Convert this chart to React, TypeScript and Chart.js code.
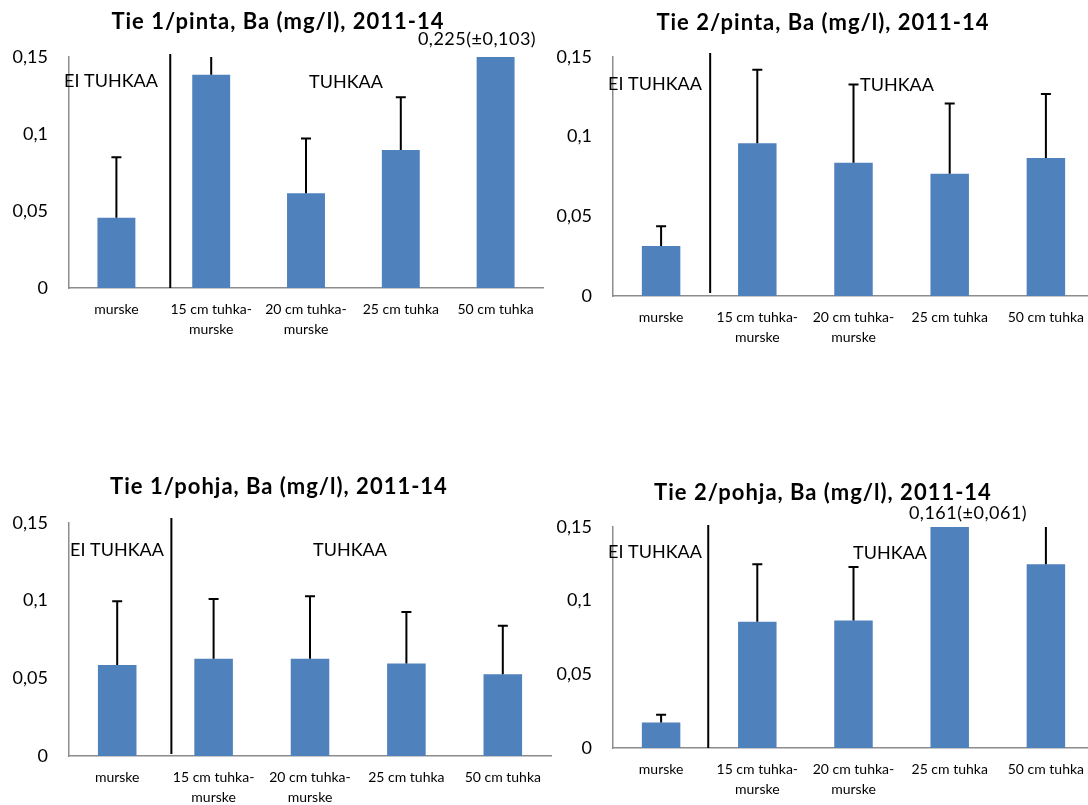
import React, { useEffect, useRef } from 'react';
import { Chart, registerables } from 'chart.js';

Chart.register(...registerables);

// ---------- data ----------
const categories: (string | string[])[] = [
  'murske',
  ['15 cm tuhka-', 'murske'],
  ['20 cm tuhka-', 'murske'],
  '25 cm tuhka',
  '50 cm tuhka',
];
const yTickValues = [0, 0.05, 0.1, 0.15];
const yTickLabels = ['0', '0,05', '0,1', '0,15'];

const tie1PintaMeans = [0.0456, 0.1385, 0.0615, 0.0896, 0.225];
const tie1PintaErrors = [0.0393, 0.03, 0.0355, 0.0342, 0.103];
const tie2PintaMeans = [0.0314, 0.0958, 0.0837, 0.0767, 0.0866];
const tie2PintaErrors = [0.0124, 0.0462, 0.049, 0.0441, 0.0402];
const tie1PohjaMeans = [0.0586, 0.0626, 0.0626, 0.0596, 0.0526];
const tie1PohjaErrors = [0.0411, 0.0384, 0.0402, 0.0331, 0.0313];
const tie2PohjaMeans = [0.0173, 0.0857, 0.0866, 0.161, 0.1247];
const tie2PohjaErrors = [0.0052, 0.039, 0.0363, 0.061, 0.045];

const groupLabels = ['EI TUHKAA', 'TUHKAA'];

// ---------- layout ----------
type PanelCfg = {
  title: string;
  means: number[];
  errors: number[];
  box: { left: number; top: number; width: number; height: number };
  area: { left: number; right: number; top: number; bottom: number };
  titlePos: { x: number; y: number };
  sep: { pos: number; top: number; bottom: number };
  groupPos: { x: number; y: number }[];
  note?: { text: string; x: number; y: number };
};

const panels: PanelCfg[] = [
  {
    title: 'Tie 1/pinta, Ba (mg/l), 2011-14',
    means: tie1PintaMeans,
    errors: tie1PintaErrors,
    box: { left: 0, top: 0, width: 545, height: 350 },
    area: { left: 69, right: 543, top: 57, bottom: 288 },
    titlePos: { x: 278, y: 22 },
    sep: { pos: 0.568, top: 54, bottom: 288 },
    groupPos: [{ x: 111, y: 81 }, { x: 346, y: 82 }],
    note: { text: '0,225(±0,103)', x: 477, y: 39 },
  },
  {
    title: 'Tie 2/pinta, Ba (mg/l), 2011-14',
    means: tie2PintaMeans,
    errors: tie2PintaErrors,
    box: { left: 545, top: 0, width: 560, height: 350 },
    area: { left: 68, right: 549, top: 57, bottom: 296 },
    titlePos: { x: 278, y: 23 },
    sep: { pos: 0.51, top: 53, bottom: 293 },
    groupPos: [{ x: 110, y: 84 }, { x: 352, y: 85 }],
  },
  {
    title: 'Tie 1/pohja, Ba (mg/l), 2011-14',
    means: tie1PohjaMeans,
    errors: tie1PohjaErrors,
    box: { left: 0, top: 470, width: 560, height: 335 },
    area: { left: 69, right: 551, top: 53, bottom: 286 },
    titlePos: { x: 279, y: 17 },
    sep: { pos: 0.562, top: 48, bottom: 284 },
    groupPos: [{ x: 117, y: 80 }, { x: 350, y: 80 }],
  },
  {
    title: 'Tie 2/pohja, Ba (mg/l), 2011-14',
    means: tie2PohjaMeans,
    errors: tie2PohjaErrors,
    box: { left: 545, top: 470, width: 560, height: 335 },
    area: { left: 68, right: 549, top: 57, bottom: 278 },
    titlePos: { x: 278, y: 23 },
    sep: { pos: 0.49, top: 55, bottom: 278 },
    groupPos: [{ x: 110, y: 82 }, { x: 345, y: 83 }],
    note: { text: '0,161(±0,061)', x: 423, y: 43 },
  },
];

const FONT = 'Lato, "Open Sans", sans-serif';
const BAR_COLOR = '#4F81BD';
const AXIS_COLOR = '#8c8c8c';

function Panel({ cfg }: { cfg: PanelCfg }) {
  const ref = useRef<HTMLCanvasElement | null>(null);

  useEffect(() => {
    if (!ref.current) return;
    const { box, area } = cfg;

    const decor = {
      id: 'decor',
      afterDatasetsDraw(chart: any) {
        const ctx = chart.ctx as CanvasRenderingContext2D;
        const ca = chart.chartArea;
        const ys = chart.scales.y;
        const xs = chart.scales.x;
        const meta = chart.getDatasetMeta(0);
        // error bars (clipped to plot area)
        ctx.save();
        ctx.beginPath();
        ctx.rect(ca.left, ca.top, ca.right - ca.left, ca.bottom - ca.top);
        ctx.clip();
        ctx.strokeStyle = '#000';
        ctx.lineWidth = 2;
        meta.data.forEach((bar: any, i: number) => {
          const x = bar.x;
          const y0 = ys.getPixelForValue(cfg.means[i]);
          const y1 = ys.getPixelForValue(cfg.means[i] + cfg.errors[i]);
          ctx.beginPath();
          ctx.moveTo(x, y0);
          ctx.lineTo(x, y1);
          ctx.moveTo(x - 5, y1);
          ctx.lineTo(x + 5, y1);
          ctx.stroke();
        });
        ctx.restore();
        // separator line
        const sx = xs.getPixelForValue(cfg.sep.pos);
        ctx.save();
        ctx.strokeStyle = '#000';
        ctx.lineWidth = 2;
        ctx.beginPath();
        ctx.moveTo(sx, cfg.sep.top);
        ctx.lineTo(sx, cfg.sep.bottom);
        ctx.stroke();
        ctx.restore();
      },
      afterDraw(chart: any) {
        const ctx = chart.ctx as any;
        ctx.save();
        ctx.fillStyle = '#000';
        ctx.textAlign = 'center';
        ctx.textBaseline = 'middle';
        ctx.font = `bold 22px ${FONT}`;
        ctx.letterSpacing = '1px';
        ctx.fillText(cfg.title, cfg.titlePos.x, cfg.titlePos.y);
        ctx.letterSpacing = '0px';
        ctx.font = `18px ${FONT}`;
        cfg.groupPos.forEach((p, i) => ctx.fillText(groupLabels[i], p.x, p.y));
        if (cfg.note) {
          ctx.font = `18px ${FONT}`;
          ctx.letterSpacing = '0.5px';
          ctx.fillText(cfg.note.text, cfg.note.x, cfg.note.y);
          ctx.letterSpacing = '0px';
        }
        ctx.restore();
      },
    };

    const chart = new Chart(ref.current, {
      type: 'bar',
      data: {
        labels: categories as any,
        datasets: [
          {
            data: cfg.means,
            backgroundColor: BAR_COLOR,
            barPercentage: 0.4,
            categoryPercentage: 1,
          },
        ],
      },
      options: {
        animation: false,
        responsive: false,
        maintainAspectRatio: false,
        layout: {
          padding: { left: 0, top: area.top, right: box.width - area.right, bottom: 0 },
        },
        plugins: {
          legend: { display: false },
          title: { display: false },
          tooltip: { enabled: false },
        },
        scales: {
          x: {
            grid: { display: false, drawTicks: false },
            border: { display: true, color: AXIS_COLOR, width: 1.5 },
            ticks: {
              color: '#000',
              font: { family: FONT, size: 14, lineHeight: '20px' },
              padding: 11,
              maxRotation: 0,
              minRotation: 0,
              autoSkip: false,
            },
            afterFit: (s: any) => {
              s.height = box.height - area.bottom;
            },
          },
          y: {
            min: 0,
            max: 0.15,
            grid: { display: false, drawTicks: false },
            border: { display: true, color: AXIS_COLOR, width: 1.5 },
            afterBuildTicks: (s: any) => {
              s.ticks = yTickValues.map((v) => ({ value: v }));
            },
            ticks: {
              color: '#000',
              font: { family: FONT, size: 18 },
              padding: 21,
              callback: (_v: any, i: number) => yTickLabels[i],
            },
            afterFit: (s: any) => {
              s.width = area.left;
            },
          },
        },
      } as any,
      plugins: [decor],
    });
    return () => chart.destroy();
  }, [cfg]);

  return (
    <canvas
      ref={ref}
      width={cfg.box.width}
      height={cfg.box.height}
      style={{
        position: 'absolute',
        left: cfg.box.left,
        top: cfg.box.top,
        width: cfg.box.width,
        height: cfg.box.height,
      }}
    />
  );
}

export default function App() {
  return (
    <div
      style={{
        position: 'fixed',
        left: 0,
        top: 0,
        width: 1088,
        height: 805,
        overflow: 'hidden',
        background: '#fff',
      }}
    >
      {panels.map((p, i) => (
        <Panel key={i} cfg={p} />
      ))}
    </div>
  );
}
